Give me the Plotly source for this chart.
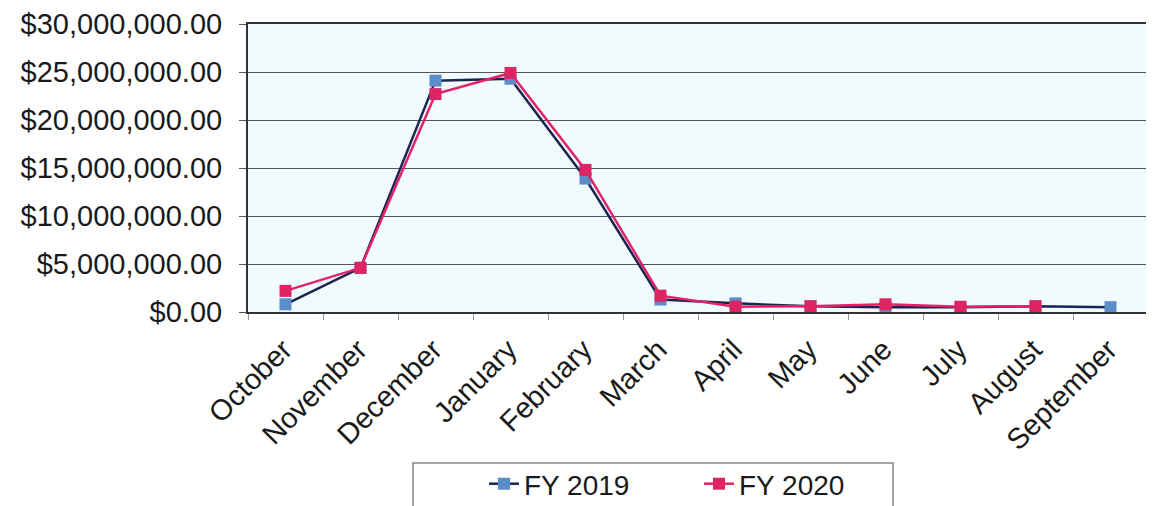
import plotly.graph_objects as go

months = ["October", "November", "December", "January", "February", "March",
          "April", "May", "June", "July", "August", "September"]
fy2019 = [800000, 4600000, 24100000, 24300000, 13900000, 1300000,
          900000, 600000, 500000, 500000, 600000, 500000]
fy2020 = [2200000, 4600000, 22700000, 24900000, 14800000, 1700000,
          550000, 600000, 800000, 550000, 600000, None]
y_ticks = [0, 5000000, 10000000, 15000000, 20000000, 25000000, 30000000]
y_labels = ["$0.00", "$5,000,000.00", "$10,000,000.00", "$15,000,000.00",
            "$20,000,000.00", "$25,000,000.00", "$30,000,000.00"]

# page has an 8px body margin; work in figure pixels
OFF = 8
W, H = 1146, 498
L, R, T, B = 240, 6, 16, 194
pw, ph = W - L - R, H - T - B

def fx(screen_p):
    return (screen_p - OFF - L) / pw

def fy(screen_p):
    return (H - B - (screen_p - OFF)) / ph

fig = go.Figure()
fig.add_trace(go.Scatter(
    x=months, y=fy2019, name="FY 2019", mode="lines+markers",
    line=dict(color="#1B2550", width=2.5),
    marker=dict(symbol="square", size=12, color="#5B8DC9"),
))
fig.add_trace(go.Scatter(
    x=months, y=fy2020, name="FY 2020", mode="lines+markers",
    line=dict(color="#E3226A", width=2.5),
    marker=dict(symbol="square", size=12, color="#DE2463"),
))

fig.add_shape(type="rect", xref="paper", yref="paper",
              x0=fx(413), x1=fx(893), y0=fy(530), y1=fy(463),
              line=dict(color="#888888", width=1.5), fillcolor="white",
              layer="below")

fig.update_layout(
    width=W, height=H,
    margin=dict(l=L, r=R, t=T, b=B, autoexpand=False),
    paper_bgcolor="white",
    plot_bgcolor="#EFFBFC",
    font=dict(family="Liberation Sans, Arial, sans-serif", color="#1a1a1a"),
    showlegend=True,
    legend=dict(
        orientation="h", x=fx(484), xanchor="left", y=fy(459), yanchor="top",
        borderwidth=0, bgcolor="rgba(0,0,0,0)",
        font=dict(size=28), entrywidth=170,
    ),
)
fig.update_xaxes(
    type="category", range=[-0.5, 11.5], tickangle=-45, tickfont=dict(size=29),
    showgrid=False, showline=True, linecolor="#333333", linewidth=2,
    mirror=True, ticks="outside", tickson="boundaries", ticklen=6,
    tickcolor="#999999", automargin=False,
    ticklabelshift=-2, ticklabelstandoff=7,
)
fig.update_yaxes(
    range=[0, 30000000], tickvals=y_ticks, ticktext=y_labels,
    tickfont=dict(size=29), showgrid=True, gridcolor="#555555", gridwidth=1,
    showline=True, linecolor="#333333", linewidth=2, mirror=True,
    ticks="outside", ticklen=7, tickcolor="#555555", zeroline=False,
    automargin=False, ticklabelstandoff=11, ticklabeloverflow="allow",
)

fig.write_html("out.html")
